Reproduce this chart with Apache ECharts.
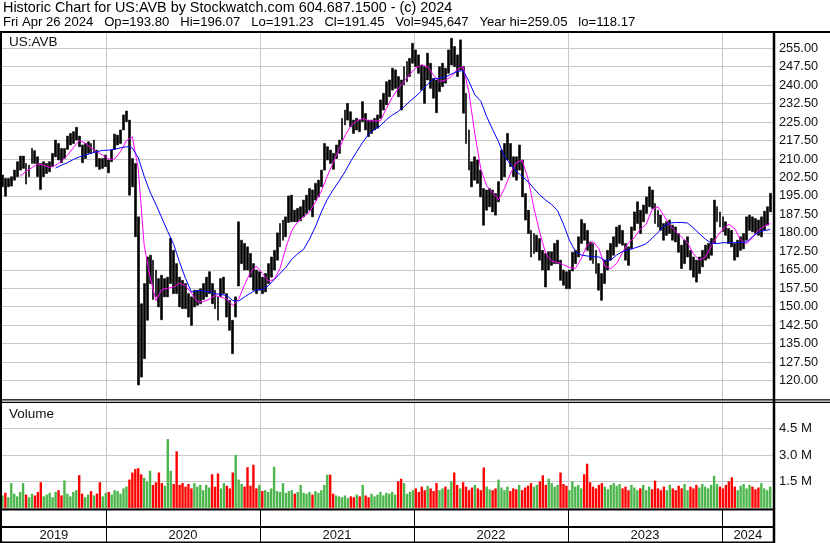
<!DOCTYPE html>
<html><head><meta charset="utf-8">
<script src="https://cdn.jsdelivr.net/npm/echarts@6/dist/echarts.min.js"></script>
<style>html,body{margin:0;padding:0;background:#fff}#c{width:830px;height:543px}</style>
</head><body><div id="c"></div><script>
const FONT = '"Liberation Sans", Arial, Helvetica, sans-serif';
const headerLine1 = 'Historic Chart for US:AVB by Stockwatch.com 604.687.1500 - (c) 2024';
const headerLine2 = 'Fri Apr 26 2024   Op=193.80   Hi=196.07   Lo=191.23   Cl=191.45   Vol=945,647   Year hi=259.05   lo=118.17';
const symbolLabel = 'US:AVB';
const volumeLabel = 'Volume';

// weekly bars: week 0 = week of Wed 2019-05-01, one bar per week to week of 2024-04-24
const firstWeek = [2019, 4, 1];
const weekHigh = [
203.5,202.1,202.1,202.8,205.5,208.9,211.2,211.2,208.2,207.5,
214.3,213.4,210.9,208.2,208.9,208.2,208.9,212.3,217.7,216.3,
214.3,214.3,219.3,220.4,221.1,222.9,219.3,215.7,216.3,217.0,
216.3,217.7,213.6,210.2,210.2,211.6,209.6,213.6,220.1,219.7,
221.8,227.9,229.5,225.8,210.2,208.2,186.5,151.2,159.4,170.2,
170.9,168.9,164.9,161.4,162.8,161.4,162.0,177.7,172.9,167.5,
162.0,160.7,159.4,155.3,154.0,156.7,156.7,157.3,159.4,162.0,
164.2,159.4,156.7,154.0,161.4,162.0,155.3,152.6,144.5,154.0,
184.5,177.0,175.7,174.3,171.6,167.5,164.9,164.2,162.0,163.5,
167.5,170.2,172.9,180.0,183.8,185.2,186.5,195.0,195.3,189.2,
189.9,190.6,193.3,195.3,198.0,197.4,200.1,201.4,205.5,216.3,
215.0,213.6,212.3,215.7,217.7,226.5,229.9,232.6,229.2,225.8,
226.5,225.8,233.3,228.5,225.8,225.8,226.5,227.9,234.0,236.7,
241.4,242.1,246.9,246.2,243.5,242.1,247.5,249.6,250.9,257.0,
254.3,252.3,248.2,247.5,253.0,248.9,242.8,242.1,247.5,248.9,
246.9,254.3,259.05,255.7,252.3,258.4,247.5,236.7,221.8,208.9,
210.9,209.6,205.5,198.0,197.4,198.0,197.4,196.0,200.8,213.6,
216.3,220.4,216.3,210.9,210.9,215.7,209.6,196.0,189.2,181.0,
179.7,179.0,177.7,172.9,171.6,172.3,172.3,175.7,177.0,168.9,
164.9,164.2,164.9,172.1,172.9,178.4,185.4,183.8,181.0,176.3,
175.7,172.9,167.5,163.5,168.9,172.9,175.7,178.4,182.4,183.1,
181.0,175.7,174.3,182.4,188.5,192.6,189.2,191.3,194.6,198.7,
197.4,191.9,189.2,187.2,183.8,184.5,185.2,183.1,182.4,179.7,
175.0,177.0,178.4,172.9,170.2,168.9,170.2,172.9,175.0,175.7,
177.7,193.3,190.6,188.5,186.5,184.5,181.8,181.0,175.7,177.0,
178.4,179.7,186.5,187.2,186.5,185.8,185.2,186.5,188.8,190.6,
196.07];
const weekLow = [
198.7,194.9,198.7,199.0,201.4,202.8,205.5,206.2,199.8,202.8,
208.2,208.2,202.8,197.6,202.8,204.1,204.8,206.9,210.9,209.6,
208.5,210.2,213.9,215.7,216.3,217.7,215.0,208.5,210.2,212.3,
212.3,213.0,206.9,205.8,206.2,206.9,204.4,208.9,213.9,215.7,
216.3,221.8,225.2,195.3,198.7,178.4,118.2,121.4,128.9,144.5,
159.4,152.9,154.0,149.9,144.7,154.0,154.0,159.4,155.3,155.3,
149.9,149.2,149.2,145.8,142.4,149.9,150.6,151.2,152.9,154.0,
155.3,151.2,149.2,144.5,154.0,155.3,145.8,140.4,130.9,145.8,
158.4,167.5,164.9,164.9,162.0,156.7,155.3,156.7,155.3,156.0,
159.4,162.0,164.9,168.9,174.3,177.0,178.4,184.2,184.5,184.5,
184.5,184.9,186.5,187.9,189.2,186.5,193.3,194.6,198.7,205.5,
209.6,208.2,205.8,210.2,212.3,217.7,223.8,225.8,223.1,220.4,
221.8,221.1,225.2,221.8,219.1,220.4,221.8,222.5,226.5,229.9,
232.0,235.3,238.0,238.7,235.3,229.9,240.1,241.4,243.5,248.9,
247.5,244.8,238.0,232.6,242.1,238.7,234.7,228.8,237.4,239.4,
240.8,244.8,248.2,247.5,243.5,246.2,228.6,216.3,205.5,198.7,
201.4,200.1,194.6,183.1,189.2,190.6,188.5,187.2,192.6,201.4,
202.8,209.6,206.9,202.8,201.4,205.5,194.6,185.2,179.7,170.2,
171.6,172.3,168.9,164.9,158.0,164.9,166.8,167.5,167.5,160.7,
158.7,157.3,157.3,164.5,167.5,170.2,175.7,177.0,172.9,168.9,
167.5,163.5,156.7,152.6,159.4,164.9,168.9,170.9,174.3,175.7,
175.0,168.9,166.8,173.5,181.0,183.8,179.7,184.5,187.9,190.6,
189.9,183.8,182.4,181.0,177.0,179.0,179.7,177.0,176.3,172.1,
165.5,167.5,170.2,164.9,162.0,160.0,163.5,166.2,168.9,169.6,
170.9,175.7,184.5,182.4,180.4,179.0,175.7,174.3,168.9,170.2,
172.9,173.5,177.0,181.0,180.4,179.7,179.0,178.4,181.0,183.1,
188.5];
// weekly volume, millions
const weekVolM = [
0.7,0.85,0.6,1.4,0.8,0.65,0.9,1.4,0.75,0.6,
0.8,0.7,0.9,1.45,0.65,0.75,0.85,0.6,0.9,1.0,
0.7,1.55,0.8,0.65,0.9,1.0,1.85,0.8,0.6,0.75,
0.95,0.7,0.8,1.45,0.65,
0.85,0.9,0.75,1.0,0.95,0.8,1.1,1.2,
1.6,2.0,2.2,2.25,1.9,1.7,1.5,
2.1,1.3,1.45,2.0,1.4,1.25,3.9,2.1,1.35,3.2,
1.3,1.4,1.2,1.35,1.1,1.4,1.2,1.3,1.0,1.3,
1.15,1.9,1.2,1.95,1.1,1.4,1.25,1.1,2.0,3.0,
1.6,1.35,1.2,2.3,1.25,2.44,1.1,1.3,
0.95,1.0,0.9,1.1,2.33,0.95,0.9,1.4,0.85,0.95,1.0,0.8,
0.9,1.3,0.85,0.8,0.9,0.75,0.95,0.85,1.0,1.3,
1.88,1.88,0.8,0.7,0.65,0.6,0.7,0.55,0.65,0.6,
0.75,0.65,1.3,0.7,0.6,0.8,0.65,0.75,0.9,0.7,
0.85,0.8,0.9,0.75,1.5,1.65,1.4,0.8,0.9,1.0,
1.1,0.9,1.2,1.0,1.25,1.1,0.95,1.4,1.0,1.1,
1.2,1.05,1.5,2.0,1.3,1.1,1.45,1.2,1.0,1.15,
1.3,1.1,1.0,2.29,1.2,1.05,1.0,1.1,1.6,1.15,
1.0,1.2,0.95,1.1,1.05,1.3,1.0,1.15,1.25,1.4,
1.2,1.3,1.5,1.84,1.3,1.65,1.4,1.2,1.3,2.0,1.35,1.25,
1.0,1.5,1.2,1.3,1.1,1.9,2.5,1.45,
1.2,1.1,1.3,1.4,1.2,1.05,1.3,1.4,1.25,1.35,
1.1,1.2,1.0,1.3,1.15,1.0,1.1,1.3,1.0,1.2,
1.05,1.54,1.1,1.0,1.2,1.0,1.3,1.1,1.0,1.25,
1.1,1.35,1.0,1.2,1.1,1.3,1.15,1.35,1.2,1.1,
1.3,1.82,1.35,1.2,
1.1,1.3,1.5,1.73,1.2,1.0,1.25,1.35,1.1,1.3,1.2,1.05,1.15,1.4,1.1,1.0,1.2];
// short moving average (magenta), every 2nd week from week 6
const maShortStart = 6;
const maShort = [
203,205,206.5,208,207.5,206.5,207.5,209,211.5,214.5,
217.5,216.5,214.5,213,211.5,210,210,213,217.5,219,
206,175,162,152.5,157,157.5,158,159.5,158.5,155.5,
152,152,153,154.5,154,153,150.5,153,159,164,
166.5,163.5,160.5,161,165.5,174,181,184.5,186.5,188.5,
192.5,197,203,208.5,214,219.5,223.5,225.5,226.5,225.5,
225.5,225.5,230.5,235,238.5,241.5,244.5,247,248.2,247.5,
244,241.5,242,243.5,246.5,247.5,237,220,206,199,
196.5,193.5,198,204,208.5,209.5,202,190,180,171.5,
168.5,168,167,166,165.5,169.5,175,176.5,173.5,166.5,
165.5,167.5,172,176,178,181.5,183.5,189.5,190.6,187,
183,180.5,178.3,176,171.5,169,170,174.5,178.5,181.5,
183.5,181.7,177,175.6,178,181,182.7,183.8];
// long moving average (blue), every 2nd week from week 18
const maLongStart = 18;
const maLong = [
206.3,207.5,208.5,209.8,210.8,211.5,212.3,213,213.5,213.6,
214,214.5,215,214.5,210.5,203,196.6,191.5,186,180.5,
175.3,168,161.5,156,156.4,156.5,156,155.3,155,154.5,
152.5,152.3,154,155.5,156.8,157,158.5,161,163.5,166,
169.3,171.5,173.3,177.5,182.5,188.5,193.6,197.5,201,204.8,
209.2,213,216.8,220,222,223.5,226,227.8,229.3,231.2,
233.5,235.5,237.8,240.5,242.5,242.8,243.3,244.5,245.5,246,
241.5,236,233.5,227.2,222,217,211,208,205,203,
200.8,198,195.3,193.3,191.5,189,183.5,177,172.5,171,
170.6,170.3,170.2,168.8,169,171,172.4,173.1,173.8,174.6,
175.6,177.8,180.2,182.8,184,184.2,184.2,184,182,179.7,
177.5,175.8,175.6,176,176,176,176.1,176.3,178.5,180.2,
181,181.3];
const priceAxis = {min: 112.5, max: 261.6, step: 7.5};
const volAxis = {min: 0, max: 6, step: 1.5};
const yearStarts = ['2020-01-01','2021-01-01','2022-01-01','2023-01-01','2024-01-01'];
const yearLabelDates = ['2019-08-31','2020-07-02','2021-07-02','2022-07-02','2023-07-02','2024-03-02'];
const axisStart = '2019-04-30', axisEnd = '2024-05-03';

const DAY = 86400000;
const ts = s => { const p = s.split('-').map(Number); return Date.UTC(p[0], p[1]-1, p[2]); };
const t0 = Date.UTC(firstWeek[0], firstWeek[1], firstWeek[2]);
const weekTime = i => t0 + i * 7 * DAY;
const xMin = ts(axisStart), xMax = ts(axisEnd);
const ticksJan = yearStarts.map(ts);
const labelPos = yearLabelDates.map(ts);

const candles = weekHigh.map((h, i) => [weekTime(i), weekLow[i], h, weekLow[i], h]);
const shortLine = maShort.map((v, k) => [weekTime(maShortStart + 2*k), v]);
const longLine = maLong.map((v, k) => [weekTime(maLongStart + 2*k), v]);
const mid = i => (weekHigh[i] + weekLow[i]) / 2;
const volColors = weekVolM.map((v, i) => (i > 0 && mid(i) < mid(i-1)) ? '#ff0000' : '#4cb64c');
const volData = weekVolM.map((v, i) => [weekTime(i), v]);

const GRID = '#c8c8c8';
const TXT = '#111';
const L = 2, W = 772;
function xAx(grid, extra) {
  return Object.assign({
    type: 'value', gridIndex: grid, min: xMin, max: xMax, scale: true,
    axisLine: {show: false}, axisTick: {show: false, customValues: ticksJan},
    axisLabel: {show: false},
    splitLine: {show: true, lineStyle: {color: GRID, width: 1}}
  }, extra || {});
}
const chart = echarts.init(document.getElementById('c'), null, {renderer: 'canvas'});
const line = (x1, y1, x2, y2, w) => ({type: 'line', silent: true, z: 100,
  shape: {x1, y1, x2, y2}, style: {stroke: '#000', lineWidth: w}});
chart.setOption({
  animation: false,
  backgroundColor: '#fff',
  textStyle: {fontFamily: FONT},
  title: [
    {text: headerLine1, left: 3, top: 1, padding: 0, textStyle: {fontSize: 14.4, fontWeight: 'normal', color: '#000', fontFamily: FONT}},
    {text: headerLine2, left: 3, top: 16, padding: 0, textStyle: {fontSize: 13.1, fontWeight: 'normal', color: '#000', fontFamily: FONT}},
    {text: symbolLabel, left: 9, top: 35, padding: 0, textStyle: {fontSize: 13.5, fontWeight: 'normal', color: TXT, fontFamily: FONT}},
    {text: volumeLabel, left: 9, top: 407, padding: 0, textStyle: {fontSize: 13.5, fontWeight: 'normal', color: TXT, fontFamily: FONT}}
  ],
  grid: [
    {left: L, top: 32, width: W, height: 367},
    {left: L, top: 402, width: W, height: 105.8},
    {left: L, top: 510, width: W, height: 32}
  ],
  xAxis: [
    xAx(0), xAx(1),
    xAx(2, {
      splitLine: {show: true, lineStyle: {color: '#000', width: 1}},
      axisLabel: {show: true, inside: true, margin: 0, customValues: labelPos, fontSize: 13, color: TXT, fontFamily: FONT,
        formatter: v => String(new Date(v).getUTCFullYear())}
    })
  ],
  yAxis: [
    {type: 'value', gridIndex: 0, position: 'right', min: priceAxis.min, max: priceAxis.max, interval: priceAxis.step,
      axisLine: {show: false}, axisTick: {show: false},
      axisLabel: {margin: 5, fontSize: 12.8, color: TXT, fontFamily: FONT, showMinLabel: false, showMaxLabel: false,
        formatter: v => v.toFixed(2)},
      splitLine: {show: true, lineStyle: {color: GRID, width: 1}}},
    {type: 'value', gridIndex: 1, position: 'right', min: volAxis.min, max: volAxis.max, interval: volAxis.step,
      axisLine: {show: false}, axisTick: {show: false},
      axisLabel: {margin: 5, fontSize: 13.2, color: TXT, fontFamily: FONT, showMinLabel: false, showMaxLabel: false,
        formatter: v => v.toFixed(1) + ' M'},
      splitLine: {show: true, lineStyle: {color: GRID, width: 1}}},
    {type: 'value', gridIndex: 2, show: false, min: 0, max: 1}
  ],
  series: [
    {type: 'candlestick', xAxisIndex: 0, yAxisIndex: 0, data: candles, barWidth: 2.4, silent: true, z: 2,
      itemStyle: {color: '#000', color0: '#000', borderColor: '#000', borderColor0: '#000', borderWidth: 0.6}},
    {type: 'line', xAxisIndex: 0, yAxisIndex: 0, data: shortLine, symbol: 'none', silent: true, z: 3,
      lineStyle: {color: '#ff00ff', width: 1}},
    {type: 'line', xAxisIndex: 0, yAxisIndex: 0, data: longLine, symbol: 'none', silent: true, z: 4,
      lineStyle: {color: '#0000ff', width: 1}},
    {type: 'bar', xAxisIndex: 1, yAxisIndex: 1, data: volData, barWidth: 2.4, silent: true,
      itemStyle: {color: p => volColors[p.dataIndex]}},
    {type: 'line', xAxisIndex: 2, yAxisIndex: 2, data: [], silent: true}
  ],
  graphic: [
    line(0, 32, 830, 32, 2),
    line(1, 31, 1, 543, 2),
    line(774, 31, 774, 543, 2.5),
    line(0, 399.8, 830, 399.8, 1.3),
    line(0, 402.4, 830, 402.4, 1.3),
    line(0, 509.5, 774, 509.5, 2),
    line(0, 527, 774, 527, 2),
    line(0, 542.2, 774, 542.2, 1.6)
  ]
});
</script></body></html>
